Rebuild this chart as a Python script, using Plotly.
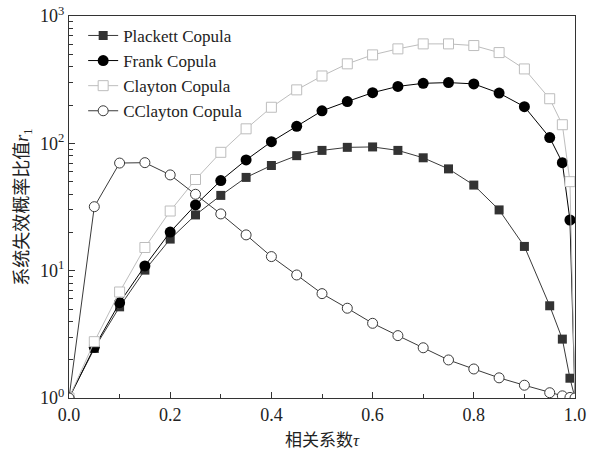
import plotly.graph_objects as go

tau = [0.0, 0.05, 0.1, 0.15, 0.2, 0.25, 0.3, 0.35, 0.4, 0.45, 0.5, 0.55, 0.6,
       0.65, 0.7, 0.75, 0.8, 0.85, 0.9, 0.95, 0.975, 0.99, 1.0]

plackett = [1.0, 2.45, 5.2, 10.1, 17.7, 27.4, 39, 54, 67, 80, 88, 93, 93.7,
            88, 77, 63, 47, 30, 15.5, 5.3, 2.9, 1.43, 1.0]
frank = [1.0, 2.5, 5.6, 10.9, 20.1, 32.8, 51, 74, 103, 136, 180, 213, 250,
         280, 296, 300, 293, 248, 194, 111, 70.5, 25, 1.0]
clayton = [1.0, 2.77, 6.8, 15.2, 29.4, 52, 85, 130, 192, 263, 338, 421, 495,
           552, 604, 604, 586, 516, 384, 224, 140, 50, 1.0]
cclayton = [1.0, 31.8, 70, 70.5, 56.5, 39.8, 27.9, 19.1, 12.9, 9.25, 6.6, 5.07,
            3.86, 3.09, 2.48, 1.99, 1.69, 1.44, 1.26, 1.1, 1.04, 1.01, 1.0]

names = ["Plackett Copula", "Frank Copula", "Clayton Copula", "CClayton Copula"]
ytickvals = [1, 10, 100, 1000]
yticktext = ["10<sup>0</sup>", "10<sup>1</sup>", "10<sup>2</sup>", "10<sup>3</sup>"]
yminorvals = [m * d for d in (1, 10, 100) for m in range(2, 10)]
xtickvals = [0.0, 0.2, 0.4, 0.6, 0.8, 1.0]
xticktext = ["0.0", "0.2", "0.4", "0.6", "0.8", "1.0"]
xminorvals = [0.1, 0.3, 0.5, 0.7, 0.9]

FONT = "Liberation Serif, Noto Sans CJK SC, serif"

fig = go.Figure()
fig.add_trace(go.Scatter(x=tau, y=plackett, name=names[0], mode="lines+markers",
                         line=dict(color="#3a3a3a", width=1),
                         marker=dict(symbol="square", size=9, color="#333333",
                                     line=dict(width=0))))
fig.add_trace(go.Scatter(x=tau, y=frank, name=names[1], mode="lines+markers",
                         line=dict(color="#000000", width=1),
                         marker=dict(symbol="circle", size=11, color="#000000",
                                     line=dict(width=0))))
fig.add_trace(go.Scatter(x=tau, y=clayton, name=names[2], mode="lines+markers",
                         line=dict(color="#bdbdbd", width=1),
                         marker=dict(symbol="square", size=10, color="white",
                                     line=dict(width=1, color="#bdbdbd"))))
fig.add_trace(go.Scatter(x=tau, y=cclayton, name=names[3], mode="lines+markers",
                         line=dict(color="#3a3a3a", width=1),
                         marker=dict(symbol="circle", size=10, color="white",
                                     line=dict(width=1, color="#3a3a3a"))))

fig.update_layout(
    width=591, height=450,
    margin=dict(l=69, r=16, t=16, b=52, autoexpand=False),
    paper_bgcolor="white", plot_bgcolor="white",
    font=dict(family=FONT, size=16, color="#222222"),
    showlegend=True,
    legend=dict(x=0.028, y=0.995, xanchor="left", yanchor="top",
                bgcolor="rgba(0,0,0,0)", font=dict(family=FONT, size=17, color="#222222"),
                tracegroupgap=0, itemwidth=30),
)
fig.update_xaxes(
    range=[0, 1], tickvals=xtickvals, ticktext=xticktext,
    ticks="inside", ticklen=6, tickcolor="#333333",
    minor=dict(ticks="inside", ticklen=4, tickvals=xminorvals, tickcolor="#333333"),
    showline=True, linecolor="#333333", linewidth=1, mirror=True,
    showgrid=False, zeroline=False, automargin=False,
    tickfont=dict(family=FONT, size=18),
    title=dict(text="相关系数<i>τ</i>", font=dict(family=FONT, size=17), standoff=12),
)
fig.update_yaxes(
    type="log", range=[0, 3], tickvals=ytickvals, ticktext=yticktext,
    ticks="inside", ticklen=6, tickcolor="#333333",
    minor=dict(ticks="inside", ticklen=4, tickvals=yminorvals, tickcolor="#333333"),
    showline=True, linecolor="#333333", linewidth=1, mirror=True,
    showgrid=False, zeroline=False, automargin=False,
    tickfont=dict(family=FONT, size=18),
    title=dict(text="系统失效概率比值<i>r</i><sub>1</sub>", font=dict(family=FONT, size=18), standoff=6),
)

fig.write_html("out.html")
